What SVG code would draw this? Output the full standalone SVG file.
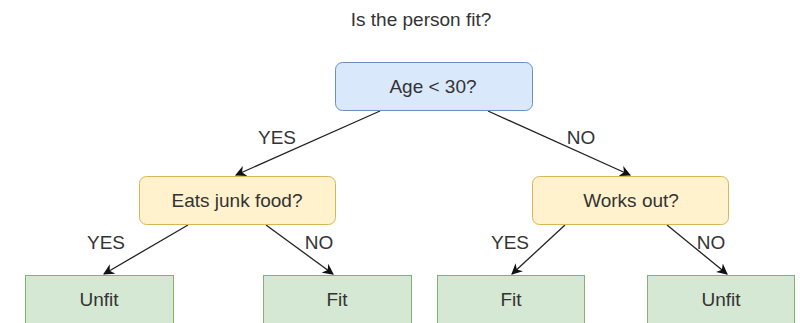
<svg xmlns="http://www.w3.org/2000/svg" width="800" height="323" viewBox="0 0 800 323">
  <style>
    text { font-family: "Liberation Sans", Arial, sans-serif; fill: #333333; }
    .lbl { font-size: 19px; text-anchor: middle; dominant-baseline: central; }
    .root { fill: #dae8fc; stroke: #6c8ebf; stroke-width: 1; }
    .q { fill: #fff2cc; stroke: #d6b656; stroke-width: 1; }
    .leaf { fill: #d5e8d4; stroke: #82b366; stroke-width: 1; }
    .edge { stroke: #222222; stroke-width: 1.3; fill: none; marker-end: url(#arrow); }
  </style>
  <defs>
    <marker id="arrow" viewBox="0 0 10 10" refX="9" refY="5" markerWidth="11" markerHeight="11" markerUnits="userSpaceOnUse" orient="auto">
      <path d="M0,0 L10,5 L0,10 L3,5 Z" fill="#111111"/>
    </marker>
  </defs>
  <rect width="800" height="323" fill="#ffffff"/>

  <text class="lbl" x="421" y="19">Is the person fit?</text>

  <g id="connectors">
    <line class="edge" x1="380" y1="111" x2="236" y2="175"/>
    <line class="edge" x1="488" y1="111" x2="630" y2="175"/>
    <line class="edge" x1="188" y1="225" x2="104" y2="274"/>
    <line class="edge" x1="266" y1="225" x2="333" y2="274"/>
    <line class="edge" x1="565" y1="225" x2="512" y2="274"/>
    <line class="edge" x1="667" y1="225" x2="727" y2="274"/>
    <text class="lbl" x="277" y="137">YES</text>
    <text class="lbl" x="581" y="137">NO</text>
    <text class="lbl" x="106" y="242">YES</text>
    <text class="lbl" x="319" y="242">NO</text>
    <text class="lbl" x="510" y="242">YES</text>
    <text class="lbl" x="711" y="242">NO</text>
  </g>

  <g id="age">
    <rect class="root" x="335.5" y="62.5" width="197" height="48" rx="7"/>
    <text class="lbl" x="433" y="86">Age &lt; 30?</text>
  </g>
  <g id="junk-food">
    <rect class="q" x="139.5" y="176.5" width="196" height="48" rx="7"/>
    <text class="lbl" x="237" y="200">Eats junk food?</text>
  </g>
  <g id="works-out">
    <rect class="q" x="532.5" y="176.5" width="196" height="48" rx="7"/>
    <text class="lbl" x="631" y="200">Works out?</text>
  </g>
  <g id="leaf-unfit-1">
    <rect class="leaf" x="25.5" y="275.5" width="148" height="60"/>
    <text class="lbl" x="99" y="299">Unfit</text>
  </g>
  <g id="leaf-fit-1">
    <rect class="leaf" x="263.5" y="275.5" width="148" height="60"/>
    <text class="lbl" x="337" y="299">Fit</text>
  </g>
  <g id="leaf-fit-2">
    <rect class="leaf" x="437.5" y="275.5" width="147" height="60"/>
    <text class="lbl" x="511" y="299">Fit</text>
  </g>
  <g id="leaf-unfit-2">
    <rect class="leaf" x="647.5" y="275.5" width="147" height="60"/>
    <text class="lbl" x="721" y="299">Unfit</text>
  </g>
</svg>
